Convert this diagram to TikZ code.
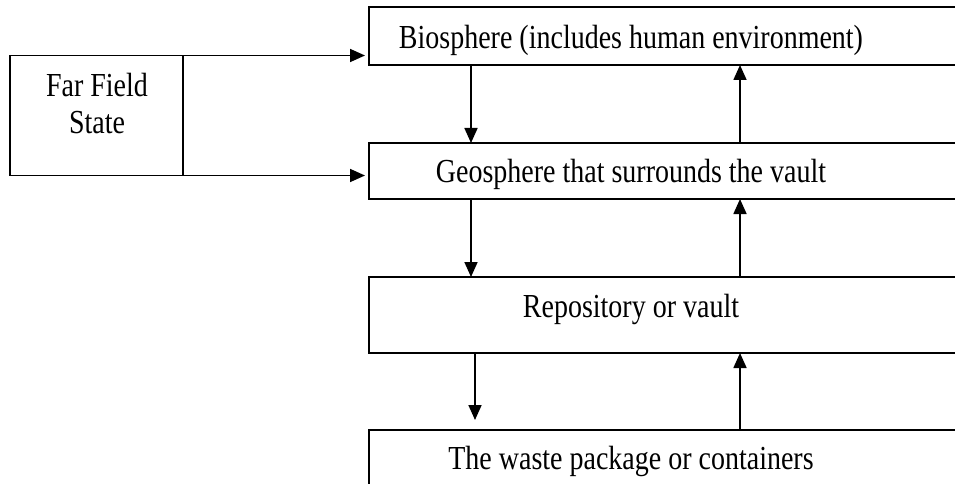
\documentclass[tikz,border=0pt]{standalone}
\usepackage{fontspec}
\setmainfont{Liberation Serif}
\newfontfamily\tallserif[FakeStretch=0.833]{Liberation Serif}
\usetikzlibrary{arrows.meta}
\begin{document}
\begin{tikzpicture}[x=1pt,y=-1pt,
  every node/.style={inner sep=0pt, outer sep=0pt},
  stage/.style={draw, line width=1.7pt, minimum width=600pt},
  label/.style={font=\tallserif\fontsize{33.6}{36}\selectfont, anchor=base},
  flow/.style={line width=1.7pt, -{Triangle[length=15pt,width=13pt]}}]
  \useasboundingbox (0,0) rectangle (955,484);

  % stages of the disposal system, top to bottom
  \node[stage, minimum height=58pt] (bio) at (669,36) {};
  \node[stage, minimum height=56pt] (geo) at (669,171) {};
  \node[stage, minimum height=76pt] (rep) at (669,315) {};
  \node[stage, minimum height=80pt] (was) at (669,470) {};

  \node[label] (biot) at (631,49) {Biosphere (includes human environment)};
  \node[label] (geot) at (631,182) {Geosphere that surrounds the vault};
  \node[label] (rept) at (631,317) {Repository or vault};
  \node[label] (wast) at (631,469) {The waste package or containers};

  % far field box
  \node[draw, line width=1.7pt, minimum width=173pt, minimum height=120pt] (ff) at (96.5,115.5) {};
  \node[label] (fft1) at (97,97) {Far Field};
  \node[label] (fft2) at (97,133) {State};

  % columns of the connectors
  \coordinate (dn) at (471,0);
  \coordinate (dn2) at (475,0);
  \coordinate (up) at (740,0);
  \coordinate (wend) at (475,420);

  % far field feeds biosphere and geosphere
  \draw[flow, shorten >=4pt] (ff.north east) -- (bio.west |- ff.north east);
  \draw[flow, shorten >=4pt] (ff.south east) -- (geo.west |- ff.south east);

  % downward transport
  \draw[flow] (bio.south -| dn) -- (geo.north -| dn);
  \draw[flow] (geo.south -| dn) -- (rep.north -| dn);
  \draw[flow] (rep.south -| dn2) -- (wend);

  % upward transport
  \draw[flow] (was.north -| up) -- (rep.south -| up);
  \draw[flow] (rep.north -| up) -- (geo.south -| up);
  \draw[flow] (geo.north -| up) -- (bio.south -| up);
\end{tikzpicture}
\end{document}
